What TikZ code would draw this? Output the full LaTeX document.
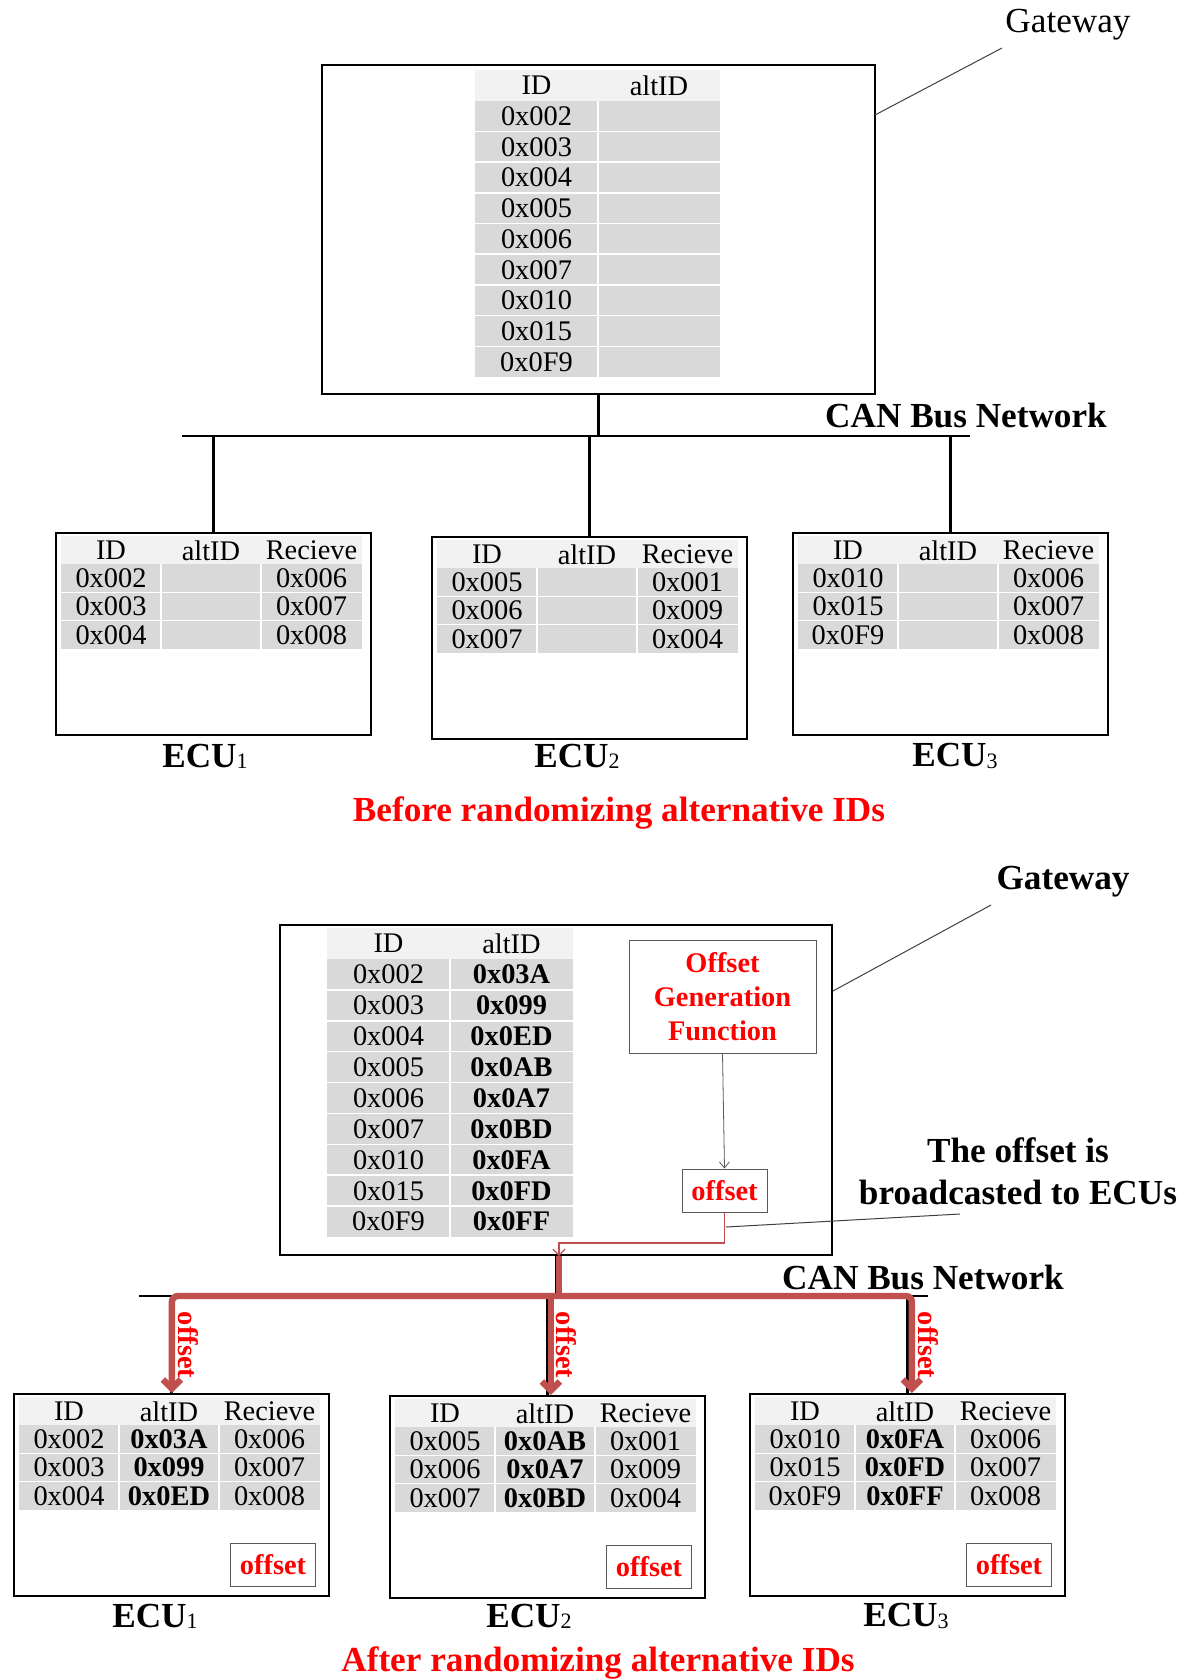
\documentclass[tikz,border=0pt]{standalone}
\usepackage{fontspec}
\setmainfont{Liberation Serif}
\usetikzlibrary{arrows.meta}

\definecolor{hdrgray}{RGB}{242,242,242}
\definecolor{cellgray}{RGB}{217,217,217}
\definecolor{txtred}{RGB}{255,0,0}
\definecolor{busred}{RGB}{192,80,77}

\newcommand\tabsize{\fontsize{14.2}{16}\selectfont}
\newcommand\labsize{\fontsize{17.6}{21}\selectfont}
\newcommand\ecusub[1]{{\bfseries ECU}{\fontsize{11}{11}\selectfont\raisebox{-0.6pt}{#1}}}

\tikzset{
  gwframe/.style={draw=black, line width=1pt, fill=white, inner sep=0pt,
    anchor=north west},
  ecuframe/.style={draw=black, line width=0.9pt, fill=white, inner sep=0pt,
    anchor=north west, minimum width=157.5pt, minimum height=101pt},
  celltext/.style={inner sep=0pt, font=\tabsize},
  sep/.style={white, line width=0.8pt},
  offbox/.style={draw=black!65, line width=0.5pt, fill=white, text=txtred,
    font=\tabsize\bfseries, inner sep=0pt, minimum width=42.5pt,
    minimum height=21.5pt},
  lab/.style={inner sep=0pt, font=\labsize},
  bus/.style={line width=1.2pt, draw=black},
  leader/.style={line width=0.5pt, draw=black!75},
  redbus/.style={line width=3.2pt, draw=busred,
    -{Straight Barb[length=4.5pt,width=9pt]}},
  redtag/.style={inner sep=0pt, text=txtred, font=\tabsize\bfseries, rotate=-90},
}

% ECU frame with its ID / altID / Recieve table
% #1 name, #2 x, #3 y, #4 rows id/alt/recv
\newcommand\ecuunit[4]{%
  \begin{scope}[shift={(#2,#3)}]
    \node[ecuframe] (#1) at (0,0) {};
    \fill[hdrgray] (6,4) rectangle (307,32);
    \fill[cellgray] (6,32) rectangle (307,117);
    \draw[sep] (6,60.3) -- (307,60.3);
    \draw[sep] (6,88.6) -- (307,88.6);
    \draw[sep] (106,32) -- (106,117);
    \draw[sep] (206,32) -- (206,117);
    \node[celltext] (#1-h1) at (56,18.5) {ID};
    \node[celltext] (#1-h2) at (156,18.5) {altID};
    \node[celltext] (#1-h3) at (256.5,18.5) {Recieve};
    \foreach \i/\a/\r [count=\k] in {#4} {
      \node[celltext] (#1-id\k) at (56,{32+(\k-0.5)*28.3}) {\i};
      \node[celltext] (#1-alt\k) at (156,{32+(\k-0.5)*28.3}) {\bfseries\a};
      \node[celltext] (#1-rx\k) at (256.5,{32+(\k-0.5)*28.3}) {\r};
    }
  \end{scope}}

\begin{document}
\begin{tikzpicture}[x=0.5pt,y=-0.5pt]
\useasboundingbox (0,0) rectangle (1186,1680);

%% ---------- before randomizing ----------
\node[gwframe, minimum width=276.5pt, minimum height=164.5pt] (gwA) at (321,64) {};
\begin{scope}[shift={(475,70)}]
  \fill[hdrgray] (0,0) rectangle (245,30.7);
  \fill[cellgray] (0,30.7) rectangle (245,307);
  \foreach \k in {1,...,8} \draw[sep] (0,{30.7+\k*30.7}) -- (245,{30.7+\k*30.7});
  \draw[sep] (123,30.7) -- (123,307);
  \node[celltext] (gwA-h1) at (61.5,15.5) {ID};
  \node[celltext] (gwA-h2) at (184,15.5) {altID};
  \foreach \v [count=\k] in {0x002,0x003,0x004,0x005,0x006,0x007,0x010,0x015,0x0F9}
    \node[celltext] (gwA-id\k) at (61.5,{15.5+\k*30.7}) {\v};
\end{scope}

\node[lab] (gwAname) at (1068,25) {Gateway};
\coordinate (gwAleadS) at (875,115);
\coordinate (gwAleadE) at (1002,48);
\draw[leader] (gwAleadS) -- (gwAleadE);

\coordinate (busAL) at (182,436);
\coordinate (busAR) at (970,436);
\draw[bus] (busAL) -- (busAR);
\draw[bus] (gwA.south) -- (gwA.south |- busAL);
\node[lab, font=\labsize\bfseries] (canA) at (966,415) {CAN Bus Network};

\ecuunit{ecuA1}{55}{532}{0x002/{}/0x006,0x003/{}/0x007,0x004/{}/0x008}
\ecuunit{ecuA2}{431}{536}{0x005/{}/0x001,0x006/{}/0x009,0x007/{}/0x004}
\ecuunit{ecuA3}{792}{532}{0x010/{}/0x006,0x015/{}/0x007,0x0F9/{}/0x008}

\foreach \e in {ecuA1,ecuA2,ecuA3}
  \draw[bus] (\e.north |- busAL) -- (\e.north);

\node[lab] (ecuA1name) at (205,756) {\ecusub{1}};
\node[lab] (ecuA2name) at (577,756) {\ecusub{2}};
\node[lab] (ecuA3name) at (955,756) {\ecusub{3}};

\node[lab, text=txtred, font=\labsize\bfseries] (titleA) at (619,813)
  {Before randomizing alternative IDs};

%% ---------- after randomizing ----------
\node[gwframe, minimum width=276pt, minimum height=165pt] (gwB) at (279,924) {};
\begin{scope}[shift={(327,928)}]
  \fill[hdrgray] (0,0) rectangle (246,30.9);
  \fill[cellgray] (0,30.9) rectangle (246,309);
  \foreach \k in {1,...,8} \draw[sep] (0,{30.9+\k*30.9}) -- (246,{30.9+\k*30.9});
  \draw[sep] (123,30.9) -- (123,309);
  \node[celltext] (gwB-h1) at (61.5,15.5) {ID};
  \node[celltext] (gwB-h2) at (184.5,15.5) {altID};
  \foreach \v/\a [count=\k] in {0x002/0x03A,0x003/0x099,0x004/0x0ED,0x005/0x0AB,
      0x006/0x0A7,0x007/0x0BD,0x010/0x0FA,0x015/0x0FD,0x0F9/0x0FF} {
    \node[celltext] (gwB-id\k) at (61.5,{15.5+\k*30.9}) {\v};
    \node[celltext] (gwB-alt\k) at (184.5,{15.5+\k*30.9}) {\bfseries\a};
  }
\end{scope}

\node[draw=black!65, line width=0.5pt, fill=white, minimum width=93.5pt,
  minimum height=56.5pt, inner sep=0pt, align=center, text=txtred,
  font=\tabsize\bfseries] (ogf) at (722.5,996.5)
  {Offset\\[1pt]Generation\\[1pt]Function};
\node[offbox] (gwoff) at (724.5,1190.5) {offset};
\draw[line width=0.4pt, draw=black!65, -{Straight Barb[length=3pt,width=5pt]}]
  (ogf.south) -- (gwoff.north);

\coordinate (redturn) at (559,1243);
\draw[line width=0.6pt, draw=busred, -{Straight Barb[length=3pt,width=6pt]}]
  (gwoff.south) |- (redturn) -- (redturn |- gwB.south);

\node[lab, font=\labsize\bfseries, align=center] (bcast) at (1018,1171)
  {The offset is\\broadcasted to ECUs};
\coordinate (bcastS) at (960,1214);
\coordinate (bcastE) at (726,1227);
\draw[leader] (bcastS) -- (bcastE);

\node[lab, font=\labsize\bfseries] (gwBname) at (1063,882) {Gateway};
\coordinate (gwBleadS) at (833,991);
\coordinate (gwBleadE) at (991,905);
\draw[leader] (gwBleadS) -- (gwBleadE);

\ecuunit{ecuB1}{13}{1393}{0x002/0x03A/0x006,0x003/0x099/0x007,0x004/0x0ED/0x008}
\ecuunit{ecuB2}{389}{1395}{0x005/0x0AB/0x001,0x006/0x0A7/0x009,0x007/0x0BD/0x004}
\ecuunit{ecuB3}{749}{1393}{0x010/0x0FA/0x006,0x015/0x0FD/0x007,0x0F9/0x0FF/0x008}
\foreach \e in {ecuB1,ecuB2,ecuB3}
  \node[offbox] (\e-off) at ([xshift=130pt,yshift=-85.8pt]\e.north west) {offset};

% plain bus underneath the broadcast
\coordinate (busBL) at (139,1296);
\coordinate (busBR) at (928,1296);
\draw[bus] (busBL) -- (busBR);
\foreach \e in {ecuB1,ecuB2,ecuB3}
  \draw[bus] (\e.north |- busBL) -- (\e.north);
\draw[bus] (gwB.south) -- (gwB.south |- busBL);
\node[lab, font=\labsize\bfseries] (canB) at (923,1277) {CAN Bus Network};

% broadcast of the offset over the bus
\coordinate (rB1) at ([xshift=0.25pt]ecuB1.north);
\coordinate (rB2) at ([xshift=1.75pt]ecuB2.north);
\coordinate (rB3) at ([xshift=2.25pt]ecuB3.north);
\draw[redbus, {Straight Barb[length=4.5pt,width=9pt]}-{Straight Barb[length=4.5pt,width=9pt]},
  rounded corners=3pt] (rB1) |- (busBL -| rB3) -- (rB3);
\draw[redbus, -] (redturn |- gwB.south) -- (redturn |- busBL);
\draw[redbus] (rB2 |- busBL) -- (rB2);

\node[redtag] (tagB1) at ([xshift=8pt]rB1 |- 0,1345) {offset};
\node[redtag] (tagB2) at ([xshift=7.5pt]rB2 |- 0,1345) {offset};
\node[redtag] (tagB3) at ([xshift=8pt]rB3 |- 0,1345) {offset};

\node[lab] (ecuB1name) at (155,1616) {\ecusub{1}};
\node[lab] (ecuB2name) at (529,1616) {\ecusub{2}};
\node[lab] (ecuB3name) at (906,1616) {\ecusub{3}};

\node[lab, text=txtred, font=\labsize\bfseries] (titleB) at (598,1663)
  {After randomizing alternative IDs};
\end{tikzpicture}
\end{document}
